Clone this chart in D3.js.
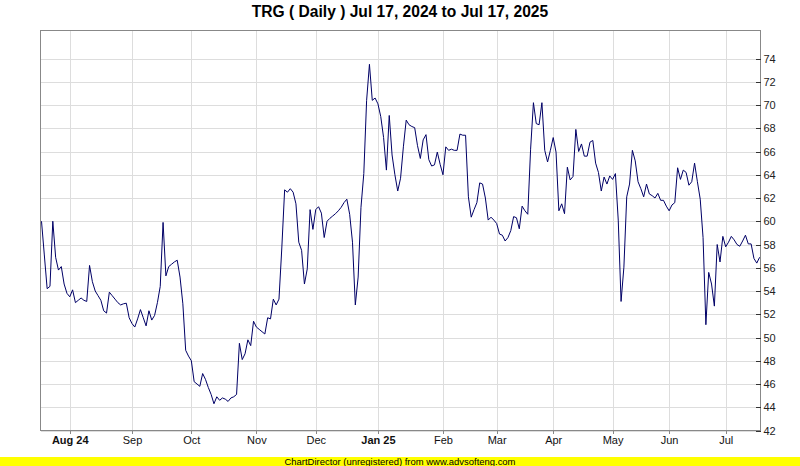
<!DOCTYPE html>
<html>
<head>
<meta charset="utf-8">
<script src="https://cdn.jsdelivr.net/npm/d3@7/dist/d3.min.js"></script>
<style>
  html, body { margin: 0; padding: 0; background: #ffffff; }
  svg { display: block; }
</style>
</head>
<body>
<script>
// ---- Data (daily closes, Jul 17, 2024 .. Jul 17, 2025) ----
const closeValues = [
  60.0, 57.1, 54.2, 54.4, 60.0, 56.9, 55.8, 56.1, 54.6, 53.8,
  53.5, 54.1, 53.0, 53.2, 53.4, 53.2, 53.1, 56.2, 54.8, 54.0,
  53.6, 53.2, 52.3, 52.1, 53.9, 53.6, 53.3, 53.0, 52.8, 52.9,
  52.95, 51.7, 51.2, 50.9, 51.6, 52.4, 51.7, 51.0, 52.3, 51.5,
  51.9, 53.0, 54.4, 59.9, 55.3, 56.1, 56.3, 56.5, 56.65, 55.2,
  52.9, 48.9, 48.4, 48.0, 46.2, 46.0, 45.8, 46.9, 46.4, 45.7,
  45.1, 44.3, 44.9, 44.6, 44.8, 44.7, 44.5, 44.8, 44.9, 45.1,
  49.5, 48.1, 48.6, 49.8, 49.3, 51.4, 50.9, 50.7, 50.5, 50.3,
  51.7, 51.6, 53.3, 52.8, 53.3, 57.7, 62.7, 62.5, 62.8, 62.5,
  61.5, 58.2, 57.5, 54.6, 55.9, 61.0, 59.3, 61.0, 61.25, 60.7,
  58.6, 60.0, 60.25, 60.45, 60.65, 60.9, 61.2, 61.6, 61.9, 60.6,
  58.2, 52.8, 55.2, 61.2, 64.1, 70.4, 73.5, 70.4, 70.6, 70.1,
  69.0, 67.2, 64.4, 69.1, 65.7, 64.0, 62.6, 63.7, 66.4, 68.7,
  68.3, 68.15, 68.05, 66.5, 65.4, 67.0, 67.45, 65.3, 64.75, 64.85,
  65.95, 64.9, 64.0, 66.4, 66.1, 66.2, 66.1, 66.1, 67.5, 67.4,
  67.4, 62.1, 60.35, 61.0, 61.6, 63.3, 63.2, 62.0, 60.1, 60.35,
  60.1, 59.8, 58.9, 58.8, 58.3, 58.6, 59.2, 60.4, 60.3, 59.35,
  61.3, 60.9, 60.6, 66.2, 70.2, 68.4, 68.3, 70.2, 66.1, 65.1,
  66.1, 67.2, 65.95, 60.9, 61.5, 60.65, 64.65, 63.55, 63.85, 67.9,
  66.0, 66.65, 65.6, 65.6, 66.8, 66.95, 65.0, 64.2, 62.6, 63.8,
  63.2, 63.9, 63.6, 64.1, 60.1, 53.1, 56.05, 62.1, 63.2, 66.1,
  65.2, 63.4, 62.8, 62.1, 63.2, 62.35, 62.2, 62.0, 62.4, 61.8,
  61.8, 61.3, 60.9, 61.4, 61.6, 64.6, 63.6, 64.4, 64.2, 63.1,
  63.4, 65.0, 63.4, 61.9, 58.6, 51.1, 55.6, 54.6, 52.7, 58.0,
  56.5, 58.7, 57.8, 58.2, 58.7, 58.4, 58.0, 57.85, 58.3, 58.8,
  58.05, 58.05, 56.8, 56.4, 56.9
];

// Month labels and the index of the first trading day of each month
const monthLabels     = ["Aug 24", "Sep", "Oct", "Nov", "Dec", "Jan 25", "Feb", "Mar", "Apr", "May", "Jun", "Jul"];
const monthStartIndex = [10, 32, 53, 76, 97, 119, 142, 161, 181, 202, 222, 242];
const monthIsYear     = [true, false, false, false, false, true, false, false, false, false, false, false];

const yTickValues = [42, 44, 46, 48, 50, 52, 54, 56, 58, 60, 62, 64, 66, 68, 70, 72, 74];

const titleText  = "TRG ( Daily ) Jul 17, 2024 to Jul 17, 2025";
const footerText = "ChartDirector (unregistered) from www.advsofteng.com";

// ---- Layout ----
const W = 800, H = 466;
const plot = { left: 40.5, right: 760.5, top: 30.5, bottom: 430.5 };
const FONT = "'Liberation Sans', Arial, Helvetica, sans-serif";

const svg = d3.select("body").append("svg")
  .attr("width", W).attr("height", H)
  .attr("viewBox", `0 0 ${W} ${H}`);

svg.append("rect").attr("x", 0).attr("y", 0).attr("width", W).attr("height", H).attr("fill", "#ffffff");

const x = d3.scaleLinear()
  .domain([0, closeValues.length - 1])
  .range([41.5, 759.6]);

const y = d3.scaleLinear()
  .domain([42, 42 + 400 / 11.625])
  .range([plot.bottom, plot.top]);

// Plot background
svg.append("rect")
  .attr("x", plot.left).attr("y", plot.top)
  .attr("width", plot.right - plot.left).attr("height", plot.bottom - plot.top)
  .attr("fill", "#ffffff");

// Horizontal grid
const yGrid = svg.append("g")
  .attr("transform", `translate(${plot.left},0)`)
  .call(d3.axisRight(y).tickValues(yTickValues).tickSize(plot.right - plot.left).tickFormat(""));
yGrid.select(".domain").remove();
yGrid.selectAll("line").attr("stroke", "#dddddd").attr("shape-rendering", "crispEdges");

// Vertical grid
const xGrid = svg.append("g")
  .attr("transform", `translate(0,${plot.top})`)
  .call(d3.axisBottom(x).tickValues(monthStartIndex).tickSize(plot.bottom - plot.top).tickFormat(""));
xGrid.select(".domain").remove();
xGrid.selectAll("line").attr("stroke", "#dddddd").attr("shape-rendering", "crispEdges");

// Price line
const line = d3.line()
  .x((d, i) => x(i))
  .y(d => y(d));

svg.append("path")
  .datum(closeValues)
  .attr("d", line)
  .attr("fill", "none")
  .attr("stroke", "#000066")
  .attr("stroke-width", 1)
  .attr("stroke-linejoin", "miter");

// Plot border
svg.append("rect")
  .attr("x", plot.left).attr("y", plot.top)
  .attr("width", plot.right - plot.left).attr("height", plot.bottom - plot.top)
  .attr("fill", "none")
  .attr("stroke", "#888888")
  .attr("shape-rendering", "crispEdges");

// Right Y axis (ticks inward)
const yAxis = svg.append("g")
  .attr("transform", `translate(${plot.right},0)`)
  .call(d3.axisRight(y).tickValues(yTickValues).tickSize(-5).tickPadding(3).tickFormat(d3.format("d")));
yAxis.select(".domain").remove();
yAxis.selectAll("line").attr("stroke", "#333333").attr("shape-rendering", "crispEdges");
yAxis.selectAll("text")
  .attr("font-family", FONT).attr("font-size", 11).attr("fill", "#222222");

// Bottom X axis
const xAxis = svg.append("g")
  .attr("transform", `translate(0,${plot.bottom})`)
  .call(d3.axisBottom(x).tickValues(monthStartIndex).tickSize(3).tickPadding(3)
    .tickFormat(d => monthLabels[monthStartIndex.indexOf(d)]));
xAxis.select(".domain").remove();
xAxis.selectAll("line").attr("stroke", "#888888").attr("shape-rendering", "crispEdges");
xAxis.selectAll("text")
  .attr("font-family", FONT).attr("font-size", 11).attr("fill", "#111111")
  .attr("font-weight", d => monthIsYear[monthStartIndex.indexOf(d)] ? "bold" : "normal");

// Title
svg.append("text")
  .attr("x", 400).attr("y", 17)
  .attr("text-anchor", "middle")
  .attr("font-family", FONT).attr("font-size", 15.6).attr("font-weight", "bold")
  .attr("fill", "#000000")
  .text(titleText);

// Footer
svg.append("rect")
  .attr("x", 0).attr("y", 457).attr("width", W).attr("height", 9)
  .attr("fill", "#ffff00");
svg.append("text")
  .attr("x", 400).attr("y", 465)
  .attr("text-anchor", "middle")
  .attr("font-family", "'Liberation Sans Narrow', 'Arial Narrow', " + FONT)
  .attr("font-size", 9.5)
  .attr("textLength", 231).attr("lengthAdjust", "spacingAndGlyphs")
  .attr("fill", "#000000")
  .text(footerText);
</script>
</body>
</html>
